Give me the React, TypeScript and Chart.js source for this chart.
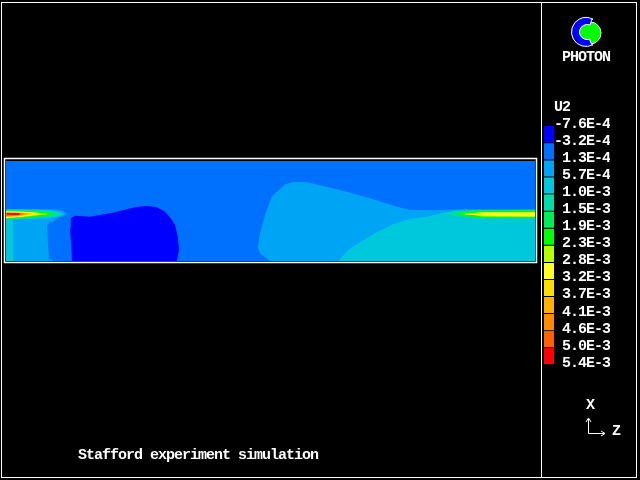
import React, { useEffect, useRef } from "react";
import { Chart, registerables } from "chart.js";

Chart.register(...registerables);

const FAMILY = '"Liberation Mono", "DejaVu Sans Mono", monospace';
const FONT = `bold 15px ${FAMILY}`;
const SPACING = "-1px";

const contourLabels = ["-7.6E-4", "-3.2E-4", "1.3E-4", "5.7E-4", "1.0E-3", "1.5E-3", "1.9E-3", "2.3E-3", "2.8E-3", "3.2E-3", "3.7E-3", "4.1E-3", "4.6E-3", "5.0E-3", "5.4E-3"];
const levelColors = ["#0000ff", "#0070ff", "#00a4f4", "#00c8dc", "#00dcaa", "#00ee55", "#00ff00", "#b4ff00", "#ffff20", "#ffdc00", "#ffb000", "#ff8c00", "#ff6000", "#ff0000"];

type P = [number, number];
const domain: P[] = [[0, 0], [0, 100], [529, 100], [529, 0]];
const lowBlob: P[] = [[66, 0], [64, 32.7], [64.7, 42.7], [69, 45.3], [84, 44.3], [104, 47.7], [120.7, 51.7], [130.7, 54], [140.7, 55], [150.7, 53.7], [159, 49.3], [164.7, 42.7], [169, 36], [171.7, 24.3], [173, 11], [170.7, 0]];
const inletBand: P[] = [[7, 0], [47, 0], [47, 39], [51, 43], [57, 45], [61, 47], [57, 50], [52, 51.5], [0, 52], [0, 42], [7, 42]];
const inletNotch: P[] = [[41, 36], [44, 39], [47, 39], [47, 1], [43, 2], [41.7, 21]];
const wake: P[] = [[264, 0], [254, 7.7], [251.7, 14.3], [254, 27.7], [259, 46], [265.7, 64.3], [279, 76.7], [287.3, 79], [300.7, 78.7], [317.3, 75], [340.7, 69.3], [364, 62.7], [387.3, 55.3], [404, 51], [430.7, 51], [457.3, 51.7], [529, 51.7], [529, 0]];
const outletFloor: P[] = [[332.3, 0], [342.3, 11], [350.7, 16.7], [369, 27.7], [387.3, 37], [404, 42], [420.7, 44.3], [437.3, 48.3], [450.7, 50], [529, 51], [529, 0]];
const inletWall: P[] = [[0, 51.5], [29, 51.5], [44, 51], [54, 49], [58, 47], [52, 44.5], [42, 43], [7, 41.5], [7, 0], [0, 0]];

const jetIn5: P[] = [[0, 51.2], [34, 51], [49, 49.5], [56, 47], [49, 44.5], [34, 43], [0, 41.5]];
const jetIn6: P[] = [[0, 50.8], [34, 50], [46, 48.3], [50, 47], [44, 45.2], [34, 44], [0, 42]];
const jetIn7: P[] = [[0, 50.4], [34, 49.2], [44, 47.5], [46, 47], [40, 46], [24, 44], [0, 42.4]];
const jetIn8: P[] = [[0, 50], [29, 48.8], [40, 47.3], [42, 46.8], [32, 45.7], [16, 44], [0, 42.8]];
const jetIn9: P[] = [[0, 49.7], [24, 48.7], [36, 47], [24, 45.5], [12, 44], [0, 43.2]];
const jetIn10: P[] = [[0, 49.2], [22, 48.2], [32, 47], [22, 45.8], [10, 44.5], [0, 43.7]];
const jetIn11: P[] = [[0, 48.8], [18, 48], [26, 47], [18, 46], [8, 45], [0, 44.2]];
const jetIn12: P[] = [[0, 48.4], [16, 47.8], [22, 47], [14, 46], [0, 44.8]];
const jetIn13: P[] = [[0, 48], [14, 47.7], [18, 47], [12, 46.1], [0, 45.4]];
const jetIn14: P[] = [[1, 48], [13, 48], [14, 47], [13, 46], [1, 46]];

const jetOut5: P[] = [[440, 47], [448, 50.3], [474, 51], [529, 51.2], [529, 42.5], [474, 42.5], [454, 44.5]];
const jetOut6: P[] = [[446, 47], [456, 49.8], [474, 50.5], [529, 50.8], [529, 43], [476, 43], [459, 44.2]];
const jetOut7: P[] = [[452, 47], [464, 49.5], [476, 50], [529, 50.3], [529, 43.5], [476, 43.7], [464, 45]];
const jetOut8: P[] = [[456, 47], [469, 48], [476, 49], [529, 49], [529, 44.2], [476, 44.4], [469, 45.8]];
const jetOut9: P[] = [[459, 47.5], [475, 47.5], [476, 48.3], [529, 48.3], [529, 44.8], [476, 45], [475, 46.3], [459, 46.3]];

// painter's order: region, contour level index
const regions: [P[], number][] = [
  [domain, 1], [lowBlob, 0], [inletBand, 2], [inletNotch, 1], [wake, 2], [outletFloor, 3], [inletWall, 3],
  [jetIn5, 4], [jetIn6, 5], [jetIn7, 6], [jetIn8, 7], [jetIn9, 8], [jetIn10, 9], [jetIn11, 10], [jetIn12, 11], [jetIn13, 12], [jetIn14, 13],
  [jetOut5, 4], [jetOut6, 5], [jetOut7, 6], [jetOut8, 7], [jetOut9, 8],
];

const title = "Stafford experiment simulation";

const spaced = {
  id: "spaced",
  beforeUpdate(c: any) {
    c.ctx.letterSpacing = SPACING;
  },
};

const decor = {
  id: "decor",
  beforeDraw(c: any) {
    const g = c.ctx;
    g.save();
    g.fillStyle = "#000";
    g.fillRect(0, 0, c.width, c.height);
    g.restore();
  },
  afterDraw(c: any) {
    const g = c.ctx;
    g.save();
    g.strokeStyle = "#fff";
    g.lineWidth = 1;
    g.strokeRect(1.5, 2.5, 635, 475);
    g.beginPath();
    g.moveTo(541.5, 2.5);
    g.lineTo(541.5, 477.5);
    g.stroke();
    g.lineWidth = 1.5;
    g.strokeRect(4.5, 158.5, 532, 104);
    // axis triad
    g.lineWidth = 1;
    g.beginPath();
    g.moveTo(588.5, 419);
    g.lineTo(588.5, 433.5);
    g.lineTo(604, 433.5);
    g.moveTo(586, 422);
    g.lineTo(588.5, 418);
    g.lineTo(591, 422);
    g.moveTo(601, 431);
    g.lineTo(605, 433.5);
    g.lineTo(601, 436);
    g.stroke();
    // logo: green disc under a blue C with arrow-shaped ends
    const cx = 586, cy = 32;
    g.beginPath();
    g.arc(cx + 4, cy + 1, 11, 0, 2 * Math.PI);
    g.fillStyle = "#00ff00";
    g.fill();
    g.strokeStyle = "#fff";
    g.stroke();
    g.beginPath();
    g.arc(cx, cy, 14.5, 0.34 * Math.PI, 1.66 * Math.PI);
    g.lineTo(cx + 6, cy - 13);
    g.lineTo(cx + 4, cy - 7);
    g.arc(cx + 1, cy, 7.5, 1.6 * Math.PI, 0.4 * Math.PI, true);
    g.lineTo(cx + 6, cy + 13);
    g.closePath();
    g.fillStyle = "#0000ff";
    g.fill();
    g.stroke();
    // text
    g.fillStyle = "#fff";
    g.font = FONT;
    g.textAlign = "left";
    g.textBaseline = "middle";
    g.fillText(title, 78, 455);
    g.fillText("PHOTON", 562, 57);
    g.fillText("U2", 554, 107);
    g.fillText("X", 586, 405);
    g.fillText("Z", 612, 431);
    g.restore();
  },
};

export default function App() {
  const mainRef = useRef<HTMLCanvasElement>(null);
  const legendRef = useRef<HTMLCanvasElement>(null);

  useEffect(() => {
    const main = new Chart(mainRef.current!, {
      type: "scatter",
      data: {
        // Chart.js paints the first dataset last
        datasets: regions.slice().reverse().map(([pts, lvl]) => ({
          data: pts.map(([x, y]) => ({ x, y })),
          showLine: true,
          tension: 0,
          fill: "shape",
          backgroundColor: levelColors[lvl],
          borderWidth: 0,
          pointRadius: 0,
        })),
      },
      options: {
        animation: false,
        responsive: false,
        devicePixelRatio: 1,
        events: [],
        layout: { padding: { left: 6, right: 105, top: 161, bottom: 219 } },
        plugins: { legend: { display: false }, tooltip: { enabled: false } },
        scales: {
          x: { type: "linear", min: 0, max: 529, display: false },
          y: { type: "linear", min: 0, max: 100, display: false },
        },
      },
      plugins: [spaced, decor],
    } as any);

    const legend = new Chart(legendRef.current!, {
      type: "bar",
      data: {
        labels: ["U2"],
        datasets: levelColors.map((color) => ({
          data: [1],
          backgroundColor: color,
          borderColor: "#000",
          borderWidth: { top: 0, bottom: 1, left: 0, right: 0 },
          borderSkipped: false,
          barPercentage: 1,
          categoryPercentage: 1,
        })),
      },
      options: {
        animation: false,
        responsive: false,
        devicePixelRatio: 1,
        events: [],
        layout: { padding: { left: 0, right: 0, top: 16, bottom: 15 } },
        plugins: { legend: { display: false }, tooltip: { enabled: false } },
        scales: {
          x: { stacked: true, display: false },
          y: {
            stacked: true,
            position: "right",
            reverse: true,
            min: 0,
            max: 14,
            grid: { display: false, drawTicks: false },
            border: { display: false },
            afterFit: (s: any) => { s.width = 56; },
            ticks: {
              stepSize: 1,
              autoSkip: false,
              padding: 0,
              crossAlign: "far",
              labelOffset: -2,
              color: "#fff",
              font: { family: FAMILY, size: 15, weight: "bold" },
              callback: (v: any) => contourLabels[v],
            },
          },
        },
      },
      plugins: [spaced],
    } as any);

    return () => {
      main.destroy();
      legend.destroy();
    };
  }, []);

  return (
    <div style={{ position: "absolute", left: 0, top: 0, width: 640, height: 480, background: "#000", overflow: "hidden" }}>
      <canvas ref={mainRef} width={640} height={480} style={{ position: "absolute", left: 0, top: 0 }} />
      <canvas ref={legendRef} width={66} height={270} style={{ position: "absolute", left: 544, top: 110 }} />
    </div>
  );
}
